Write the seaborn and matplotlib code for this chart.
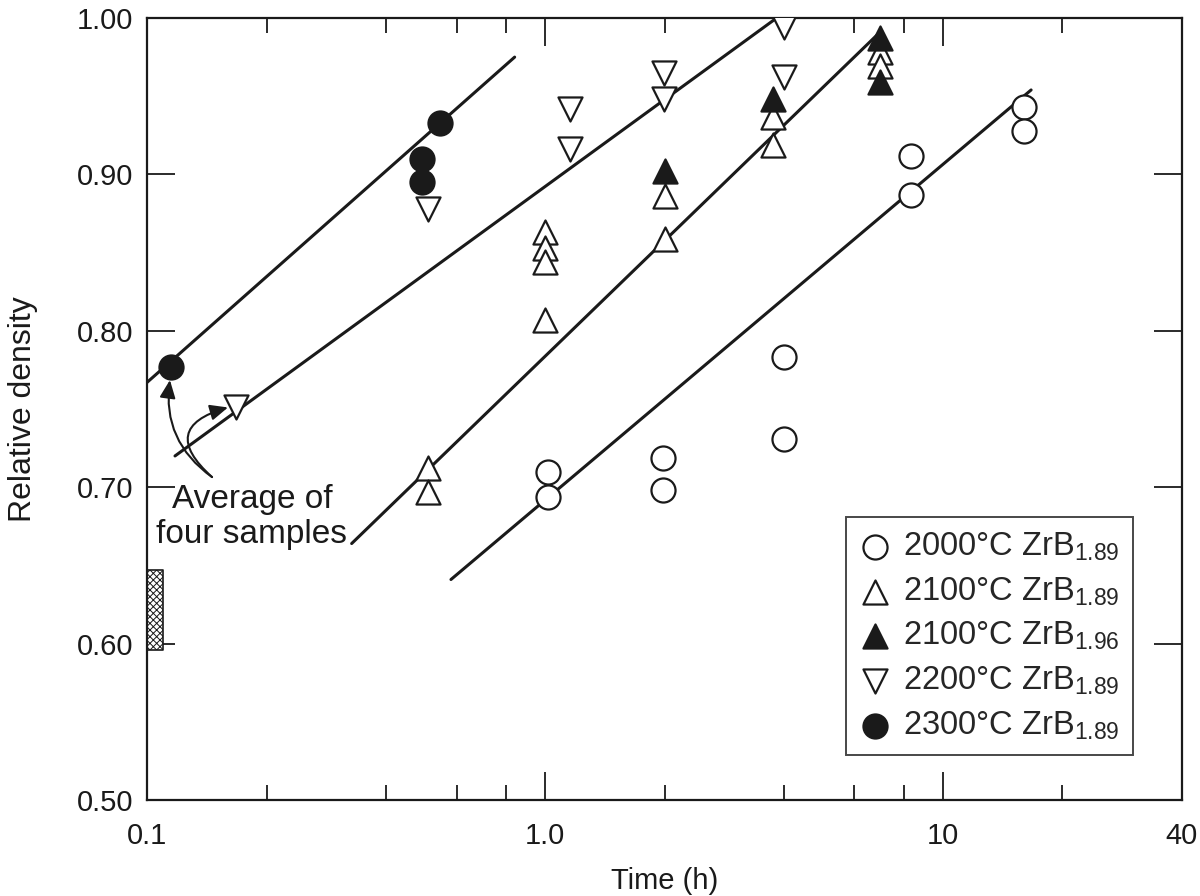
import matplotlib
matplotlib.use("Agg")
import matplotlib.pyplot as plt
import seaborn as sns
import numpy as np
import pandas as pd
from matplotlib.ticker import FixedLocator, NullFormatter

sns.set_theme(style="white")
plt.rcParams['font.family'] = ['Liberation Sans', 'DejaVu Sans']
plt.rcParams['mathtext.fontset'] = 'custom'
plt.rcParams['mathtext.rm'] = 'Liberation Sans'
plt.rcParams['mathtext.it'] = 'Liberation Sans'
plt.rcParams['hatch.linewidth'] = 0.7

# ---- data ----
t2000 = [1.02, 1.02, 1.98, 1.98, 4.0, 4.0, 8.35, 8.35, 16.0, 16.0]
d2000 = [0.710, 0.694, 0.719, 0.698, 0.783, 0.731, 0.912, 0.887, 0.943, 0.928]

t2100 = [0.51, 0.51, 1.0, 1.0, 1.0, 1.0, 2.0, 2.0, 3.74, 3.74, 6.95, 6.95]
d2100 = [0.712, 0.697, 0.863, 0.853, 0.844, 0.807, 0.886, 0.859, 0.937, 0.919, 0.978, 0.969]

t2100b = [2.0, 3.74, 6.95, 6.95]
d2100b = [0.902, 0.948, 0.987, 0.959]

t2200 = [0.1675, 0.508, 1.155, 1.155, 1.99, 1.99, 4.0, 4.0]
d2200 = [0.751, 0.878, 0.942, 0.916, 0.965, 0.948, 0.994, 0.962]

t2300 = [0.115, 0.491, 0.491, 0.545]
d2300 = [0.777, 0.910, 0.895, 0.933]

# fitted lines (endpoints)
fit2300_t = [0.1, 0.84]
fit2300_d = [0.767, 0.975]
fit2200_t = [0.1176, 3.78]
fit2200_d = [0.720, 0.999]
fit2100_t = [0.327, 7.03]
fit2100_d = [0.664, 0.992]
fit2000_t = [0.581, 16.7]
fit2000_d = [0.641, 0.954]

# green-density band
band_t = [0.1, 0.1097]
band_d = [0.596, 0.647]

labels = ["2000°C ZrB$_{1.89}$", "2100°C ZrB$_{1.89}$", "2100°C ZrB$_{1.96}$",
          "2200°C ZrB$_{1.89}$", "2300°C ZrB$_{1.89}$"]

xticks = [0.1, 1.0, 10, 40]
xticklabels = ["0.1", "1.0", "10", "40"]
xminor = [0.2, 0.4, 0.6, 0.8, 2, 4, 6, 8, 20]
yticks = [0.5, 0.6, 0.7, 0.8, 0.9, 1.0]
yticklabels = ["0.50", "0.60", "0.70", "0.80", "0.90", "1.00"]

FS = 21
BLACK = "#1a1a1a"

fig = plt.figure(figsize=(12, 8.96), dpi=100)
ax = fig.add_axes([0.1225, 0.1071, 0.8625, 0.8728])

# fit lines
for ft, fd in [(fit2300_t, fit2300_d), (fit2200_t, fit2200_d),
               (fit2100_t, fit2100_d), (fit2000_t, fit2000_d)]:
    sns.lineplot(x=ft, y=fd, ax=ax, color=BLACK, linewidth=2.2, zorder=2)

ms = 300
ew = 1.6
series = [
    (t2000, d2000, "o", "white", labels[0]),
    (t2100, d2100, "^", "white", labels[1]),
    (t2100b, d2100b, "^", BLACK, labels[2]),
    (t2200, d2200, "v", "white", labels[3]),
    (t2300, d2300, "o", BLACK, labels[4]),
]
for tx, dy, mk, fc, lab in series:
    sns.scatterplot(x=tx, y=dy, ax=ax, marker=mk, s=ms, facecolor=fc,
                    edgecolor=BLACK, linewidth=ew, label=lab, zorder=3)

# hatched band
ax.fill_betweenx(band_d, band_t[0], band_t[1], facecolor="white",
                 edgecolor=BLACK, hatch="xxxxx", linewidth=1.2, zorder=2)

ax.set_xscale("log")
ax.set_xlim(0.1, 40)
ax.set_ylim(0.5, 1.0)

ax.xaxis.set_major_locator(FixedLocator(xticks))
ax.set_xticklabels(xticklabels)
ax.xaxis.set_minor_locator(FixedLocator(xminor))
ax.xaxis.set_minor_formatter(NullFormatter())
ax.set_yticks(yticks)
ax.set_yticklabels(yticklabels)

ax.tick_params(which="major", direction="in", length=20, width=1.3,
               top=True, right=True, bottom=True, left=True,
               labelsize=FS, colors=BLACK)
ax.tick_params(which="minor", direction="in", length=11, width=1.3,
               top=True, right=True, bottom=True, left=True, colors=BLACK)
ax.tick_params(axis="x", which="major", pad=16)
ax.tick_params(axis="y", which="major", pad=10)
for sp in ax.spines.values():
    sp.set_color(BLACK)
    sp.set_linewidth(1.6)

ax.set_xlabel("Time (h)", fontsize=FS, color=BLACK, labelpad=12)
ax.set_ylabel("Relative density", fontsize=23, color=BLACK, labelpad=28)

# annotation
ax.text(0.1836, 0.681, "Average of\nfour samples", fontsize=24, color=BLACK,
        ha="center", va="center", linespacing=1.2, zorder=4)
ax.annotate("", xy=(0.1142, 0.7685), xytext=(0.1457, 0.7065),
            arrowprops=dict(arrowstyle="-|>,head_length=0.9,head_width=0.4",
                            color=BLACK, lw=1.5, shrinkA=0, shrinkB=0,
                            connectionstyle="arc3,rad=-0.3"))
ax.annotate("", xy=(0.1598, 0.751), xytext=(0.1457, 0.7065),
            arrowprops=dict(arrowstyle="-|>,head_length=0.9,head_width=0.4",
                            color=BLACK, lw=1.5, shrinkA=0, shrinkB=0,
                            connectionstyle="arc3,rad=-0.9"))

leg = ax.legend(loc="lower right", bbox_to_anchor=(0.9527, 0.0575),
                borderaxespad=0,
                fontsize=23.5, frameon=True, fancybox=False, edgecolor=BLACK,
                handletextpad=0.4, labelspacing=0.38, borderpad=0.4,
                handlelength=0.95, markerscale=1.0)
leg.get_frame().set_linewidth(1.4)

fig.savefig("out.png", dpi=100, facecolor="white")
